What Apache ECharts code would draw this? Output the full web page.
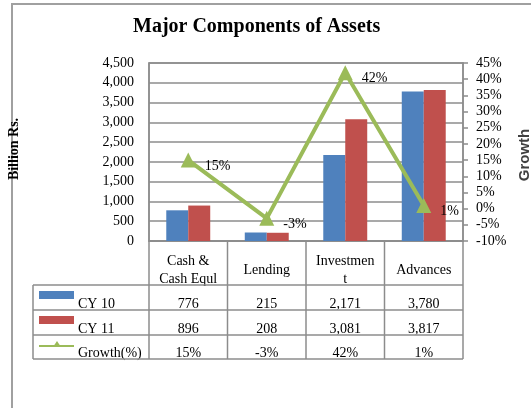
<!DOCTYPE html>
<html><head><meta charset="utf-8">
<script src="https://cdn.jsdelivr.net/npm/echarts@6/dist/echarts.min.js"></script>
<style>html,body{margin:0;padding:0;background:#fff}#c{width:531px;height:408px}</style>
</head><body><div id="c"></div>
<script>
var categories = ['Cash &\nCash Equl', 'Lending', 'Investmen\nt', 'Advances'];
var cy10 = [776, 215, 2171, 3780];
var cy11 = [896, 208, 3081, 3817];
var growth = [15, -3, 42, 1];
var seriesNames = ['CY 10', 'CY 11', 'Growth(%)'];
var seriesColors = ['#4F81BD', '#C0504D', '#9BBB59'];

var SERIF = '"Liberation Serif","Times New Roman",serif';
var GRAY = '#8c8c8c';
function fmt(v){ return v.toString().replace(/\B(?=(\d{3})+(?!\d))/g, ','); }

var chart = echarts.init(document.getElementById('c'));
var option = {
  animation: false,
  backgroundColor: '#fff',
  title: {
    text: 'Major Components of Assets', left: 128, top: 12,
    textStyle: { fontFamily: SERIF, fontSize: 20, fontWeight: 'bold', color: '#000' }
  },
  grid: { left: 149, right: 68, top: 63, bottom: 167, show: true, borderColor: GRAY, borderWidth: 1.5, backgroundColor: 'transparent', containLabel: false, outerBoundsMode: 'none' },
  xAxis: {
    type: 'category', data: categories,
    axisLine: { lineStyle: { color: GRAY, width: 1.5 } },
    axisTick: { show: false },
    axisLabel: { margin: 29, verticalAlign: 'middle', lineHeight: 18, fontFamily: SERIF, fontSize: 14, color: '#000' }
  },
  yAxis: [{
    type: 'value', min: 0, max: 4500, interval: 500,
    name: 'Billion Rs.', nameLocation: 'middle', nameGap: 128,
    nameTextStyle: { fontFamily: SERIF, fontSize: 14, fontWeight: 'bold', color: '#000', padding: [0, 0, 0, 6] },
    axisLine: { show: true, lineStyle: { color: GRAY, width: 1.5 } },
    axisTick: { show: false },
    axisLabel: { margin: 15, fontFamily: SERIF, fontSize: 14, color: '#000', formatter: function(v){ return fmt(v); } },
    splitLine: { lineStyle: { color: GRAY, width: 1.5 } }
  }, {
    type: 'value', min: -10, max: 45, interval: 5, position: 'right',
    name: 'Growth', nameLocation: 'middle', nameGap: 50,
    nameTextStyle: { fontFamily: '"Liberation Sans",Arial,sans-serif', fontSize: 15, fontWeight: 'bold', color: '#404040', padding: [0, 6, 0, 0] },
    axisLine: { show: true, lineStyle: { color: GRAY, width: 1.5 } },
    axisTick: { show: true, inside: false, length: 5, lineStyle: { color: GRAY, width: 1.5 } },
    axisLabel: { margin: 13, fontFamily: SERIF, fontSize: 14, color: '#000', formatter: '{value}%' },
    splitLine: { show: false }
  }],
  series: [
    { name: seriesNames[0], type: 'bar', data: cy10, itemStyle: { color: seriesColors[0] }, barGap: '0%', barCategoryGap: '44%' },
    { name: seriesNames[1], type: 'bar', data: cy11, itemStyle: { color: seriesColors[1] } },
    { name: seriesNames[2], type: 'line', yAxisIndex: 1, data: growth,
      lineStyle: { color: seriesColors[2], width: 4 }, itemStyle: { color: seriesColors[2] },
      symbol: 'triangle', symbolSize: 15,
      label: { show: true, position: 'right', offset: [4, 6], formatter: '{c}%', fontFamily: SERIF, fontSize: 14, color: '#000' } }
  ]
};
chart.setOption(option);

// Data table beneath the chart
var centers = categories.map(function(c, i){ return chart.convertToPixel({ xAxisIndex: 0 }, i); });
var half = (centers[1] - centers[0]) / 2;
var gridTop = chart.convertToPixel({ yAxisIndex: 0 }, 0);
var xs = [centers[0] - half].concat(centers.map(function(c){ return c + half; }));
var rowLines = [gridTop + 44, gridTop + 69, gridTop + 94, gridTop + 118];
var legendLeft = 33;
var g = [];
g.push({ type: 'polyline', shape: { points: [[12, 420], [12, 4], [540, 4]] }, style: { stroke: '#a0a0a0', lineWidth: 2, fill: null }, z: 0 });
xs.forEach(function(x){ g.push({ type: 'line', shape: { x1: x, y1: gridTop, x2: x, y2: rowLines[3] }, style: { stroke: GRAY, lineWidth: 1.5 }, z: 10 }); });
g.push({ type: 'line', shape: { x1: legendLeft, y1: rowLines[0], x2: legendLeft, y2: rowLines[3] }, style: { stroke: GRAY, lineWidth: 1.5 }, z: 10 });
rowLines.forEach(function(y){ g.push({ type: 'line', shape: { x1: legendLeft, y1: y, x2: xs[4], y2: y }, style: { stroke: GRAY, lineWidth: 1.5 }, z: 10 }); });
var rows = [cy10.map(fmt), cy11.map(fmt), growth.map(function(v){ return v + '%'; })];
rows.forEach(function(r, ri){
  var cy = rowLines[ri + 1] - 6;
  r.forEach(function(t, ci){
    g.push({ type: 'text', x: centers[ci], y: cy, style: { text: t, font: '14px ' + SERIF, fill: '#000', align: 'center', verticalAlign: 'middle' }, z: 5 });
  });
  var ky = rowLines[ri] + 10;
  if (ri < 2) {
    g.push({ type: 'rect', shape: { x: 39, y: ky - 4, width: 35, height: 8 }, style: { fill: seriesColors[ri] }, z: 5 });
  } else {
    g.push({ type: 'line', shape: { x1: 39, y1: ky + 1, x2: 74, y2: ky + 1 }, style: { stroke: seriesColors[2], lineWidth: 2 }, z: 5 });
    g.push({ type: 'polygon', shape: { points: [[57, ky - 4], [61, ky + 2], [53, ky + 2]] }, style: { fill: seriesColors[2] }, z: 5 });
  }
  g.push({ type: 'text', x: 78, y: cy, style: { text: seriesNames[ri], font: '14px ' + SERIF, fill: '#000', align: 'left', verticalAlign: 'middle' }, z: 5 });
});
chart.setOption({ graphic: g });
</script></body></html>
